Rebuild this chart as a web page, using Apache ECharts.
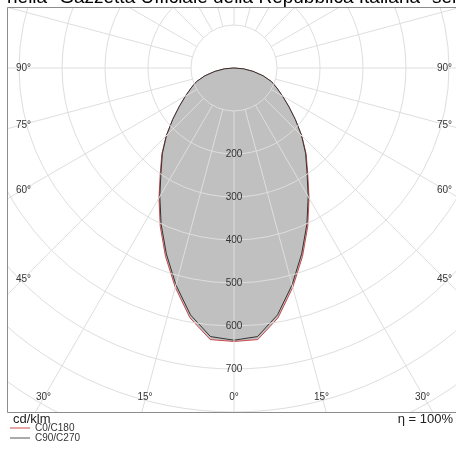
<!DOCTYPE html>
<html>
<head>
<meta charset="utf-8">
<script src="https://cdn.jsdelivr.net/npm/echarts@6/dist/echarts.min.js"></script>
<style>
html,body{margin:0;padding:0;background:#fff;}
#c{width:456px;height:452px;}
</style>
</head>
<body>
<div id="c"></div>
<script>
// gamma angles (deg from nadir) and intensities in cd/klm
const gammas   = [0, 5, 10, 15, 20, 25, 30, 35, 40, 45, 50, 55, 60, 65, 70, 75, 80, 85, 90];
const c0c180   = [636, 634, 590, 528, 466, 406, 349, 299, 261, 223, 186, 155, 130, 110, 93, 70, 45, 22, 0];
const c90c270  = [633, 627, 583, 522, 460, 401, 345, 296, 259, 222, 186, 155, 130, 110, 93, 70, 45, 22, 0];
const radiusTickLabels = [200, 300, 400, 500, 600, 700];
const sideAngleLabels = ['90°', '75°', '60°', '45°'];
const bottomAngleLabels = ['30°', '15°', '0°', '15°', '30°'];
const seriesNames = ['C0/C180', 'C90/C270'];
const titleText = 'nella "Gazzetta Ufficiale della Repubblica Italiana" serie generale';
const unitText = 'cd/klm';
const etaText = 'η = 100%';

const RED = '#cc4a4c', DARK = '#333333';

function toPolar(vals) {
  const pts = [];
  for (let i = gammas.length - 1; i >= 0; i--) pts.push([vals[i], 360 - gammas[i]]);
  for (let i = 1; i < gammas.length; i++) pts.push([vals[i], gammas[i]]);
  return pts;
}

const CX = 234, CY = 68;
const sideY = [68, 125, 190, 279];
const bottomX = [43.5, 145, 234, 321.5, 422.5];
const labelFont = '10px "Liberation Sans", Arial, sans-serif';

const graphics = [
  {type:'rect', z:50, silent:true, shape:{x:0,y:0,width:456,height:7}, style:{fill:'#fff'}},
  {type:'rect', z:50, silent:true, shape:{x:0,y:0,width:7,height:452}, style:{fill:'#fff'}},
  {type:'rect', z:50, silent:true, shape:{x:0,y:412.5,width:456,height:40}, style:{fill:'#fff'}},
  {type:'rect', z:51, silent:true, shape:{x:7.5,y:7.5,width:470,height:405}, style:{fill:null, stroke:'#8c8c8c', lineWidth:1}},
  {type:'text', z:52, silent:true, x:7, y:-2.5, style:{text:titleText, font:'19px "Liberation Sans", Arial, sans-serif', fill:'#000', textAlign:'left', textVerticalAlign:'middle'}},
  {type:'text', z:52, silent:true, x:13, y:419, style:{text:unitText, font:'13px "Liberation Sans", Arial, sans-serif', fill:'#222', textAlign:'left', textVerticalAlign:'middle'}},
  {type:'text', z:52, silent:true, x:453, y:419, style:{text:etaText, font:'13px "Liberation Sans", Arial, sans-serif', fill:'#222', textAlign:'right', textVerticalAlign:'middle'}}
];
sideAngleLabels.forEach((t, i) => {
  graphics.push({type:'text', z:52, silent:true, x:23.5, y:sideY[i], style:{text:t, font:labelFont, fill:'#333', textAlign:'center', textVerticalAlign:'middle'}});
  graphics.push({type:'text', z:52, silent:true, x:444.5, y:sideY[i], style:{text:t, font:labelFont, fill:'#333', textAlign:'center', textVerticalAlign:'middle'}});
});
bottomAngleLabels.forEach((t, i) => {
  graphics.push({type:'text', z:52, silent:true, x:bottomX[i], y:397, style:{text:t, font:labelFont, fill:'#333', textAlign:'center', textVerticalAlign:'middle'}});
});

const chart = echarts.init(document.getElementById('c'), null, {renderer:'canvas'});
chart.setOption({
  animation: false,
  backgroundColor: '#fff',
  polar: [
    {center:[CX, CY], radius:[0, 430]},
    {center:[CX, CY], radius:[43, 430]}
  ],
  angleAxis: [
    {polarIndex:0, type:'value', min:0, max:360, startAngle:-90, clockwise:true, show:false},
    {polarIndex:1, type:'value', min:0, max:360, interval:15, startAngle:-90, clockwise:true, z:5,
     axisLine:{show:false}, axisTick:{show:false}, axisLabel:{show:false},
     splitLine:{show:true, lineStyle:{color:'#dedede', width:1}}}
  ],
  radiusAxis: [
    {polarIndex:0, type:'value', min:0, max:1000, show:false},
    {polarIndex:1, type:'value', min:100, max:1000, interval:100, z:5,
     axisLine:{show:false}, axisTick:{show:false},
     splitLine:{show:true, lineStyle:{color:'#dedede', width:1}},
     axisLabel:{show:true, margin:0, align:'center', verticalAlign:'middle', color:'#333', fontSize:10,
       fontFamily:'"Liberation Sans", Arial, sans-serif',
       formatter: v => radiusTickLabels.includes(v) ? String(v) : ''}}
  ],
  legend: {
    z: 60,
    orient:'vertical', left:10, top:423, padding:0, itemGap:0, itemWidth:20, itemHeight:1, icon:'rect',
    textStyle:{fontSize:10, color:'#333', fontFamily:'"Liberation Sans", Arial, sans-serif', lineHeight:10},
    data: [
      {name: seriesNames[0], itemStyle:{color: RED}},
      {name: seriesNames[1], itemStyle:{color: '#555'}}
    ]
  },
  series: [
    {type:'line', name:seriesNames[0], coordinateSystem:'polar', polarIndex:0, data:toPolar(c0c180),
     symbol:'none', smooth:false, color:RED, itemStyle:{color:RED}, lineStyle:{color:RED, width:1},
     areaStyle:{color:'#c0c0c0', opacity:1}, z:2},
    {type:'line', name:seriesNames[1], coordinateSystem:'polar', polarIndex:0, data:toPolar(c90c270),
     symbol:'none', smooth:false, color:DARK, itemStyle:{color:DARK}, lineStyle:{color:DARK, width:1},
     areaStyle:{color:'#c0c0c0', opacity:1}, z:3}
  ],
  graphic: graphics
});
</script>
</body>
</html>
